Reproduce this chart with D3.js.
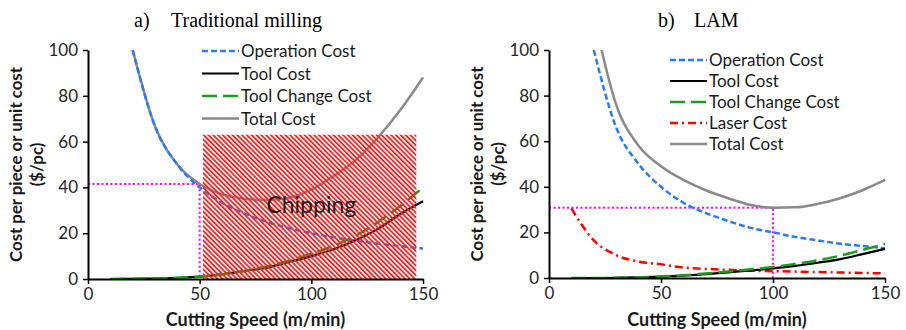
<!DOCTYPE html>
<html>
<head>
<meta charset="utf-8">
<script src="https://cdn.jsdelivr.net/npm/d3@7"></script>
<style>
  body { margin: 0; background: #fff; }
  text { font-family: Lato, "Open Sans", sans-serif; }
</style>
</head>
<body>
<script>
var width = 906, height = 330;

// Cutting speeds (m/min), shared by both panels
var speeds = [10, 20, 30, 40, 50, 60, 70, 80, 90, 100, 110, 120, 130, 140, 150];

// a) Traditional milling ($/pc)
var opCostA      = [null, 100, 66.7, 50, 40, 33.3, 28.6, 25, 22.2, 20, 18.2, 16.7, 15.4, 14.3, 13.3];
var toolCostA    = [0, 0.1, 0.2, 0.5, 1, 2, 3.5, 5, 7.5, 10, 13, 17, 22, 28.5, 34];
var toolChangeA  = [0, 0.1, 0.2, 0.5, 1, 2, 3.5, 5.5, 8, 11, 14.5, 19, 25, 32, 40];
var totalA       = [null, 100, 66.7, 50, 41.5, 37, 35, 34.5, 35.5, 39, 45, 52, 62, 74, 88];

// b) LAM ($/pc)
var opCostB      = [null, 100, 66, 50, 40, 33, 28.5, 25, 22, 20, 18, 16.5, 15, 14, 13];
var toolCostB    = [0, 0, 0.1, 0.3, 0.6, 1, 1.7, 2.5, 3.3, 4.2, 5.3, 6.7, 8.3, 10.5, 12.8];
var toolChangeB  = [0, 0, 0.1, 0.3, 0.7, 1.2, 2, 2.8, 3.8, 4.8, 6.2, 7.8, 9.8, 12.3, 15];
var laserB       = [30.5, 16.5, 10, 7.2, 6, 4.6, 4, 3.6, 3.2, 3, 2.8, 2.6, 2.4, 2.2, 2];
var totalB       = [null, 115, 76, 58, 49, 43, 38.5, 35, 32, 30.8, 31, 32.5, 35, 38.5, 43];

// axis ticks
var xTicks = [0, 50, 100, 150];
var yTicks = [0, 20, 40, 60, 80, 100];

// optimum markers [speed, cost] and the chipping zone [x0, x1, yTop]
var optimumA = [50, 41.5];
var optimumB = [100, 30.8];
var chippingA = [51.5, 147, 63];

// line styles by series name
var styles = {
  "Operation Cost":   { color: "#2c7bf2", width: 2.5, dash: "6,3" },
  "Tool Cost":        { color: "#000000", width: 2.2, dash: null },
  "Tool Change Cost": { color: "#1e9a1e", width: 2.5, dash: "15,6" },
  "Laser Cost":       { color: "#ff0000", width: 2.5, dash: "8,4,2,4" },
  "Total Cost":       { color: "#8a8a8a", width: 2.5, dash: null }
};

var svg = d3.select("body").append("svg")
    .attr("width", width)
    .attr("height", height);

var defs = svg.append("defs");

// red diagonal hatch for the chipping zone
var hatch = defs.append("pattern")
    .attr("id", "hatch")
    .attr("patternUnits", "userSpaceOnUse")
    .attr("width", 3.4)
    .attr("height", 3.4)
    .attr("patternTransform", "rotate(-45)");
hatch.append("rect")
    .attr("width", 1.8)
    .attr("height", 3.4)
    .attr("fill", "#ff1f1f");

var panels = [
  {
    id: "a", letter: "a)", title: "Traditional milling",
    letterX: 134, titleX: 171,
    xRange: [88, 423], yRange: [279, 50],
    series: [
      ["Operation Cost", opCostA],
      ["Tool Cost", toolCostA],
      ["Tool Change Cost", toolChangeA],
      ["Total Cost", totalA]
    ],
    drawOrder: ["Total Cost", "Operation Cost", "Tool Cost", "Tool Change Cost"],
    legend: { x: 202, y: 51, step: 22.5 },
    optimum: optimumA,
    chipping: chippingA
  },
  {
    id: "b", letter: "b)", title: "LAM",
    letterX: 658, titleX: 694,
    xRange: [549, 885], yRange: [278, 50],
    series: [
      ["Operation Cost", opCostB],
      ["Tool Cost", toolCostB],
      ["Tool Change Cost", toolChangeB],
      ["Laser Cost", laserB],
      ["Total Cost", totalB]
    ],
    drawOrder: ["Total Cost", "Operation Cost", "Laser Cost", "Tool Cost", "Tool Change Cost"],
    legend: { x: 670, y: 60, step: 21 },
    optimum: optimumB,
    chipping: null
  }
];

panels.forEach(drawPanel);

function drawPanel(p) {
  var x = d3.scaleLinear().domain([0, 150]).range(p.xRange);
  var y = d3.scaleLinear().domain([0, 100]).range(p.yRange);
  var g = svg.append("g");

  // title
  g.append("text")
      .attr("x", p.letterX).attr("y", 27)
      .style("font-family", "'Liberation Serif', 'Times New Roman', serif")
      .style("font-size", "20px")
      .text(p.letter);
  g.append("text")
      .attr("x", p.titleX).attr("y", 27)
      .style("font-family", "'Liberation Serif', 'Times New Roman', serif")
      .style("font-size", "20px")
      .text(p.title);

  // clip to plot area
  defs.append("clipPath").attr("id", "clip-" + p.id)
    .append("rect")
      .attr("x", p.xRange[0]).attr("y", p.yRange[1])
      .attr("width", p.xRange[1] - p.xRange[0] + 2)
      .attr("height", p.yRange[0] - p.yRange[1]);

  var plot = g.append("g").attr("clip-path", "url(#clip-" + p.id + ")");

  // optimum guide lines
  var o = p.optimum;
  plot.append("path")
      .attr("d", "M" + x(0) + "," + y(o[1]) + "H" + x(o[0]) + "V" + y(0))
      .attr("fill", "none")
      .attr("stroke", "#ff00ff")
      .attr("stroke-width", 2)
      .attr("stroke-dasharray", "2,2.5");

  // cost curves
  var byName = {};
  p.series.forEach(function(s) { byName[s[0]] = s[1]; });

  var line = d3.line()
      .defined(function(d) { return d[1] != null; })
      .x(function(d) { return x(d[0]); })
      .y(function(d) { return y(d[1]); })
      .curve(d3.curveMonotoneX);

  p.drawOrder.forEach(function(name) {
    var st = styles[name];
    var pts = speeds.map(function(v, i) { return [v, byName[name][i]]; });
    plot.append("path")
        .datum(pts)
        .attr("d", line)
        .attr("fill", "none")
        .attr("stroke", st.color)
        .attr("stroke-width", st.width)
        .attr("stroke-dasharray", st.dash);
  });

  // chipping zone sits over the curves
  if (p.chipping) {
    var c = p.chipping;
    plot.append("rect")
        .attr("x", x(c[0]))
        .attr("y", y(c[2]))
        .attr("width", x(c[1]) - x(c[0]))
        .attr("height", y(0) - y(c[2]))
        .attr("fill", "url(#hatch)");
    g.append("text")
        .attr("x", x(100)).attr("y", y(29))
        .attr("text-anchor", "middle")
        .style("font-size", "23px")
        .style("fill", "#1a1a1a")
        .text("Chipping");
  }

  // axes
  var xAxis = g.append("g")
      .attr("transform", "translate(0," + p.yRange[0] + ")")
      .call(d3.axisBottom(x).tickValues(xTicks).tickSize(5).tickSizeOuter(0).tickPadding(4));
  var yAxis = g.append("g")
      .attr("transform", "translate(" + p.xRange[0] + ",0)")
      .call(d3.axisLeft(y).tickValues(yTicks).tickSize(5).tickSizeOuter(0).tickPadding(5));

  [xAxis, yAxis].forEach(function(ax) {
    ax.select(".domain").attr("stroke", "#000").attr("stroke-width", 2);
    ax.selectAll(".tick line").attr("stroke", "#000").attr("stroke-width", 1.5);
    ax.selectAll(".tick text")
        .style("font-family", "Lato, sans-serif")
        .style("font-size", "17px")
        .attr("fill", "#262626");
  });

  // axis titles
  var midX = (p.xRange[0] + p.xRange[1]) / 2;
  g.append("text")
      .attr("x", midX).attr("y", 326)
      .attr("text-anchor", "middle")
      .style("font-size", "18px")
      .style("font-weight", "bold")
      .style("fill", "#1a1a1a")
      .text("Cutting Speed (m/min)");

  var midY = (p.yRange[0] + p.yRange[1]) / 2;
  var yLab = g.append("text")
      .attr("transform", "translate(" + (p.xRange[0] - 66) + "," + midY + ") rotate(-90)")
      .attr("text-anchor", "middle")
      .style("font-size", "16.8px")
      .style("font-weight", "bold")
      .style("fill", "#1a1a1a");
  yLab.append("tspan").attr("x", 0).attr("dy", 0).text("Cost per piece or unit cost");
  yLab.append("tspan").attr("x", 0).attr("dy", 21).text("($/pc)");

  // legend
  var leg = g.append("g");
  p.series.forEach(function(s, i) {
    var st = styles[s[0]];
    var ly = p.legend.y + i * p.legend.step;
    leg.append("line")
        .attr("x1", p.legend.x).attr("x2", p.legend.x + 37)
        .attr("y1", ly).attr("y2", ly)
        .attr("stroke", st.color)
        .attr("stroke-width", st.width)
        .attr("stroke-dasharray", st.dash);
    leg.append("text")
        .attr("x", p.legend.x + 39).attr("y", ly)
        .attr("dy", "0.36em")
        .style("font-size", "17px")
        .style("fill", "#1a1a1a")
        .text(s[0]);
  });
}
</script>
</body>
</html>
